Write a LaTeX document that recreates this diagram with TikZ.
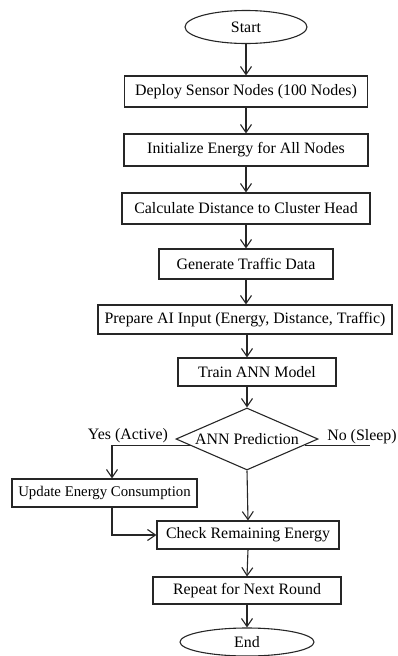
\documentclass[tikz,border=0pt]{standalone}
\usepackage{fontspec}
\setmainfont{Liberation Serif}
\usetikzlibrary{shapes.geometric,arrows.meta}
\begin{document}
\begin{tikzpicture}[x=1pt,y=-1pt,
  font=\fontsize{15.9}{18}\selectfont,
  box/.style={draw=black!85, line width=1.1pt, rectangle, inner sep=0pt, text=black},
  term/.style={draw=black!85, line width=1.1pt, ellipse, inner sep=0pt, text=black},
  dia/.style={draw=black!85, line width=1.1pt, diamond, aspect=2.3, inner sep=0pt,
    minimum width=142pt, minimum height=62pt, text=black},
  flow/.style={draw=black!85, line width=1.1pt,
    -{Straight Barb[length=8pt,width=11pt,line width=1.1pt]}},
  plain/.style={draw=black!85, line width=1.1pt},
  lbl/.style={inner sep=0pt, text=black}]
\useasboundingbox (0,0) rectangle (397,656);

% main column
\node[term, minimum width=122pt, minimum height=33pt] (start) at (246,27) {Start};
\node[box, minimum width=243pt, minimum height=31pt] (dep) at (246,91.5) {Deploy Sensor Nodes (100 Nodes)};
\node[box, minimum width=244pt, minimum height=32pt] (ini) at (246,150) {Initialize Energy for All Nodes};
\node[box, minimum width=248pt, minimum height=31pt] (cal) at (246,208.5) {Calculate Distance to Cluster Head};
\node[box, minimum width=174pt, minimum height=30pt] (gen) at (246,264) {Generate Traffic Data};
\node[box, minimum width=294pt, minimum height=29pt] (pre) at (245,319.5) {Prepare AI Input (Energy, Distance, Traffic)};
\node[box, minimum width=158pt, minimum height=28pt] (trn) at (257,372) {Train ANN Model\hspace{19pt}};
\node[dia] (dec) at (247,439) {ANN Prediction};
\node[box, minimum width=185pt, minimum height=28pt, font=\fontsize{14.8}{18}\selectfont] (upd) at (104.5,493) {Update Energy Consumption};
\node[box, minimum width=182pt, minimum height=28pt] (chk) at (248,535) {Check Remaining Energy};
\node[box, minimum width=188pt, minimum height=27pt] (rep) at (247,590.5) {Repeat for Next Round};
\node[term, minimum width=134pt, minimum height=28pt] (end) at (247,642) {End};

% branch labels
\node[lbl] (yes) at (128,436) {Yes (Active)};
\node[lbl] (no) at (362,437) {No (Sleep)};
\coordinate (ux) at (112,493);
\coordinate (nend) at (370,446);

% connectors
\draw[flow] (start.south) -- (dep.north);
\draw[flow] (dep.south) -- (ini.north);
\draw[flow] (ini.south) -- (cal.north);
\draw[flow] (cal.south) -- (gen.north);
\draw[flow] (gen.south) -- (gen.south |- pre.north);
\draw[flow] (pre.south -| dec.north) -- (trn.north -| dec.north);
\draw[flow] (trn.south -| dec.north) -- (dec.north);
\draw[flow] (dec.187) -| (ux |- upd.north);
\draw[plain] (dec.-6) -- (dec.-6 -| nend);
\draw[flow] (dec.south) -- (chk.north);
\draw[flow] (ux |- upd.south) |- (chk.west);
\draw[flow] (chk.south) -- (rep.north);
\draw[flow] (rep.south) -- (end.north);
\end{tikzpicture}
\end{document}
